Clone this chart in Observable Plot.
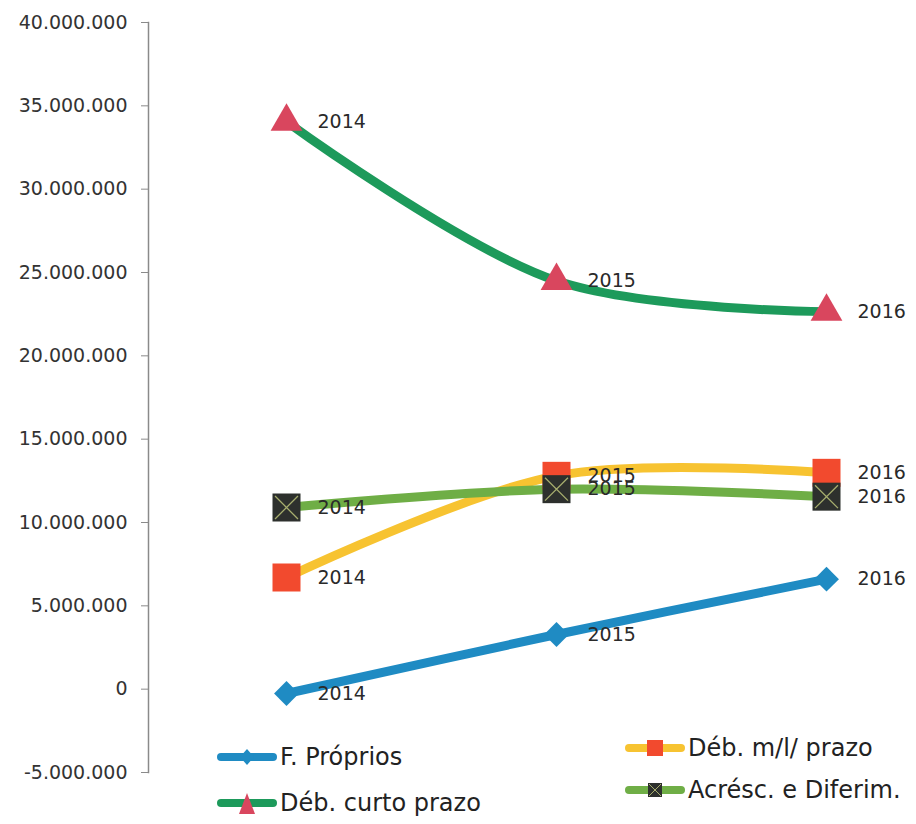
<!DOCTYPE html>
<html><head><meta charset="utf-8">
<script src="https://cdn.jsdelivr.net/npm/d3@7"></script>
<script src="https://cdn.jsdelivr.net/npm/@observablehq/plot@0.6"></script>
<style>
body{margin:0;background:#fff;font-family:"DejaVu Sans",sans-serif;}
#wrap{position:relative;width:916px;height:824px;overflow:hidden;}
.leg{position:absolute;display:flex;align-items:center;height:30px;line-height:30px;font-size:24px;color:#222;white-space:nowrap;}
.leg svg{margin-right:3px;}
</style></head><body><div id="wrap"></div>
<script>
const years = [2014, 2015, 2016];
const seriesNames = ["F. Próprios", "Déb. m/l/ prazo", "Déb. curto prazo", "Acrésc. e Diferim."];
const fProprios = [-260000, 3280000, 6600000];
const debMLPrazo = [6700000, 12800000, 12980000];
const debCurtoPrazo = [34050000, 24500000, 22650000];
const acrescDiferim = [10900000, 12000000, 11550000];
const yTicks = [-5000000, 0, 5000000, 10000000, 15000000, 20000000, 25000000, 30000000, 35000000, 40000000];
const pointLabels = ["2014", "2015", "2016"];

const colors = {
  line: ["#1f8bc3", "#f7c331", "#1d9a5b", "#6fae46"],
  marker: ["#1f8bc3", "#f24a2e", "#d9465e", "#2d302d"]
};
const values = [fProprios, debMLPrazo, debCurtoPrazo, acrescDiferim];
const rows = values.map((vals, s) => years.map((yr, i) => ({series: seriesNames[s], year: yr, value: vals[i], label: pointLabels[i]})));

const fmt = d => d3.format(",")(d).replace(/,/g, ".").replace("\u2212", "-");

const marks = [
  Plot.frame({anchor: "left", stroke: "#8a8a8a", strokeWidth: 1.5}),
  Plot.axisY({ticks: yTicks, tickFormat: fmt, tickSize: 7, tickPadding: 14, fontSize: 19, stroke: "#8a8a8a", label: null})
];
const symbols = ["diamond2", "square", "triangle", "square"];
const radii = [11.2, 15.8, 11.8, 15.8];
rows.forEach((data, s) => {
  marks.push(Plot.line(data, {x: "year", y: "value", stroke: colors.line[s], strokeWidth: 9, curve: "catmull-rom"}));
});
rows.forEach((data, s) => {
  marks.push(Plot.dot(data, {x: "year", y: "value", symbol: symbols[s], r: radii[s], fill: colors.marker[s], stroke: "none"}));
  if (s === 3) marks.push(Plot.dot(data, {x: "year", y: "value", symbol: "times", r: 10.5, stroke: "#a7ae6e", strokeWidth: 1.3}));
});
rows.forEach((data, s) => {
  marks.push(Plot.text(data, {x: "year", y: "value", text: "label", dx: 31, textAnchor: "start", fontSize: 19, fill: "#2a2a2a"}));
});

const chart = Plot.plot({
  width: 916, height: 824,
  marginTop: 22, marginBottom: 52, marginLeft: 148, marginRight: 0,
  style: {fontFamily: "'DejaVu Sans', sans-serif", color: "#333", background: "#fff"},
  x: {type: "point", domain: years, range: [286, 826], padding: 0, axis: null},
  y: {domain: [-5000000, 40000000], axis: null},
  marks
});
const wrap = document.getElementById("wrap");
wrap.appendChild(chart);

// legend
function icon(s) {
  const W = 60, H = 30, c = W / 2, m = H / 2;
  let mk = "";
  if (s === 0) mk = `<path d="M${c-7},${m} L${c},${m-8} L${c+7},${m} L${c},${m+8}Z" fill="${colors.marker[0]}"/>`;
  if (s === 1) mk = `<rect x="${c-8}" y="${m-8}" width="16" height="16" fill="${colors.marker[1]}"/>`;
  if (s === 2) mk = `<path d="M${c},${m-10} L${c+8},${m+11} L${c-8},${m+11}Z" fill="${colors.marker[2]}"/>`;
  if (s === 3) mk = `<rect x="${c-7}" y="${m-7}" width="14" height="14" fill="${colors.marker[3]}"/><path d="M${c-6},${m-6}L${c+6},${m+6}M${c+6},${m-6}L${c-6},${m+6}" stroke="#a7ae6e" stroke-width="1"/>`;
  return `<svg width="${W}" height="${H}"><line x1="4" x2="${W-4}" y1="${m}" y2="${m}" stroke="${colors.line[s]}" stroke-width="8" stroke-linecap="round"/>${mk}</svg>`;
}
const legPos = [[217, 742], [625, 733], [217, 788], [625, 775]];
seriesNames.forEach((name, s) => {
  const d = document.createElement("div");
  d.className = "leg";
  d.style.left = legPos[s][0] + "px";
  d.style.top = legPos[s][1] + "px";
  d.innerHTML = icon(s) + `<span>${name}</span>`;
  wrap.appendChild(d);
});
</script></body></html>
